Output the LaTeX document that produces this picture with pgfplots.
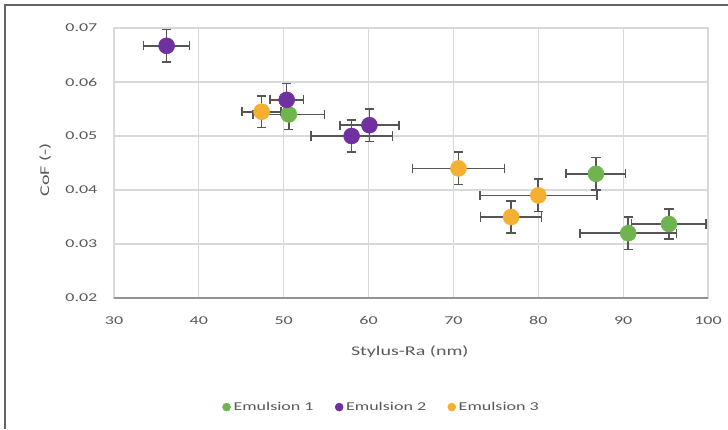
\documentclass[border=0pt]{standalone}
\usepackage{fontspec}
\setmainfont[FakeStretch=1.5]{Carlito}
\usepackage{pgfplots}
\pgfplotsset{compat=1.18}
\definecolor{cgreen}{RGB}{112,180,80}
\definecolor{cpurple}{RGB}{112,48,160}
\definecolor{corange}{RGB}{245,176,50}
\definecolor{cerr}{RGB}{85,85,85}
\definecolor{ctext}{RGB}{89,89,89}
\definecolor{cgrid}{RGB}{217,217,217}
\definecolor{cframe}{RGB}{100,100,100}
\begin{document}
\begin{tikzpicture}
\useasboundingbox (-85.5pt,-98.25pt) rectangle (460.5pt,223.5pt);
\fill[white] (-85.5pt,-98.25pt) rectangle (460.5pt,223.5pt);
\draw[cframe, line width=1pt] (-81.75pt,-98.25pt) -- (-81.75pt,219.75pt) -- (460.5pt,219.75pt);
\begin{axis}[
  scale only axis, width=445.5pt, height=202.5pt,
  xmin=30, xmax=100, ymin=0.02, ymax=0.07,
  xtick={30,40,50,60,70,80,90,100},
  ytick={0.02,0.03,0.04,0.05,0.06,0.07},
  scaled y ticks=false,
  /pgf/number format/assume math mode=true,
  yticklabel style={/pgf/number format/fixed, /pgf/number format/fixed zerofill, /pgf/number format/precision=2, xshift=-9pt},
  xticklabel style={anchor=center, yshift=-17pt},
  tick label style={font=\fontsize{9}{11}\selectfont, text=ctext},
  major tick length=0pt,
  grid=major,
  major grid style={cgrid, line width=0.8pt},
  axis line style={cgrid, line width=0.8pt},
  xlabel={Stylus-Ra (nm)},
  ylabel={CoF (-)},
  label style={font=\fontsize{10}{12}\selectfont, text=ctext},
  xlabel style={at={(axis description cs:0.498,-0.2)}, anchor=center},
  ylabel style={at={(axis description cs:-0.116,0.474)}, anchor=center},
  legend style={at={(axis description cs:0.451,-0.404)}, anchor=center, draw=none, fill=none,
    font=\fontsize{9}{11}\selectfont, text=ctext, legend columns=3,
    /tikz/every even column/.append style={column sep=14pt}},
  legend cell align=left,
  clip=false,
  every axis plot/.append style={
    error bars/error bar style={cerr, line width=1.2pt},
    error bars/error mark options={rotate=90, cerr, line width=1.2pt, mark size=3.5pt}},
]
\draw[cframe!70, line width=1pt] (rel axis cs:0,0) -- (rel axis cs:1,0);
\addplot[only marks, mark=*, mark size=6pt, color=cgreen, mark options={fill=cgreen, draw=cgreen},
  legend image code/.code={\fill[cgreen] (0.2em,0pt) circle (3pt);},
  error bars/.cd, x dir=both, x explicit, y dir=both, y explicit]
coordinates {
  (50.6,0.054) +- (4.2,0.0028)
  (86.8,0.043) +- (3.5,0.003)
  (90.6,0.032) +- (5.7,0.003)
  (95.4,0.0337) +- (4.4,0.0028)
};
\addlegendentry{Emulsion 1}
\addplot[only marks, mark=*, mark size=6pt, color=cpurple, mark options={fill=cpurple, draw=cpurple},
  legend image code/.code={\fill[cpurple] (0.2em,0pt) circle (3pt);},
  error bars/.cd, x dir=both, x explicit, y dir=both, y explicit]
coordinates {
  (36.2,0.0667) +- (2.7,0.003)
  (50.35,0.0567) +- (2.0,0.003)
  (58.0,0.050) +- (4.8,0.003)
  (60.1,0.052) +- (3.5,0.003)
};
\addlegendentry{Emulsion 2}
\addplot[only marks, mark=*, mark size=6pt, color=corange, mark options={fill=corange, draw=corange},
  legend image code/.code={\fill[corange] (0.2em,0pt) circle (3pt);},
  error bars/.cd, x dir=both, x explicit, y dir=both, y explicit]
coordinates {
  (47.4,0.0545) +- (2.3,0.0029)
  (70.6,0.044) +- (5.4,0.003)
  (80.0,0.039) +- (6.9,0.003)
  (76.8,0.035) +- (3.6,0.003)
};
\addlegendentry{Emulsion 3}
\end{axis}
\end{tikzpicture}
\end{document}
